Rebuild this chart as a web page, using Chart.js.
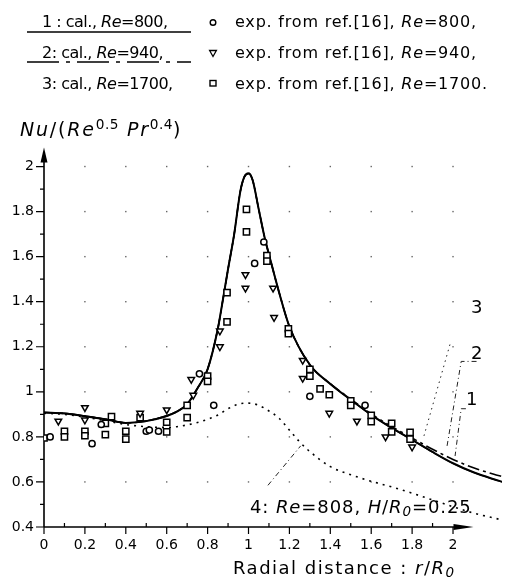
<!DOCTYPE html>
<html>
<head>
<meta charset="utf-8">
<script src="https://cdn.jsdelivr.net/npm/chart.js@4/dist/chart.umd.min.js"></script>
<style>
body { margin: 0; background: #fff; }
#caja { position: relative; width: 508px; height: 580px; font-family: "DejaVu Sans", sans-serif; color: #000; }
#grafico { position: absolute; left: 0; top: 0; }
#leyenda { position: absolute; left: 0; top: 0; }
.txt { position: absolute; white-space: nowrap; line-height: 1; }
.txt i { font-style: italic; }
.txt sup { font-size: 0.72em; position: relative; top: -0.5em; vertical-align: baseline; letter-spacing: 0.5px; }
.txt sub { font-size: 0.75em; position: relative; top: 0.25em; vertical-align: baseline; font-style: italic; }
</style>
</head>
<body>
<div id="caja">
  <canvas id="grafico" width="508" height="580"></canvas>

  <svg id="leyenda" width="508" height="95">
    <line x1="27" y1="32" x2="191" y2="32" stroke="#000" stroke-width="1.5"/>
    <line x1="27" y1="62" x2="191" y2="62" stroke="#000" stroke-width="1.5" stroke-dasharray="32 7 4 7"/>
    <circle cx="213" cy="22.5" r="2.8" fill="#fff" stroke="#000" stroke-width="1.4"/>
    <path d="M209.6 50.5 L216.4 50.5 L213 56.5 Z" fill="#fff" stroke="#000" stroke-width="1.3"/>
    <rect x="210" y="80.5" width="6" height="5.5" fill="#fff" stroke="#000" stroke-width="1.4"/>
  </svg>

  <div class="txt" style="left:42px; top:14px; font-size:16px; letter-spacing:-0.5px">1 : cal., <i>Re</i>=800,</div>
  <div class="txt" style="left:42px; top:45px; font-size:16px; letter-spacing:-0.5px">2: cal., <i>Re</i>=940,</div>
  <div class="txt" style="left:42px; top:76px; font-size:16px; letter-spacing:-0.5px">3: cal., <i>Re</i>=1700,</div>
  <div class="txt" style="left:235px; top:14px; font-size:16px; letter-spacing:0.8px">exp. from ref.[16], <i>Re</i>=800,</div>
  <div class="txt" style="left:235px; top:45px; font-size:16px; letter-spacing:0.8px">exp. from ref.[16], <i>Re</i>=940,</div>
  <div class="txt" style="left:235px; top:76px; font-size:16px; letter-spacing:0.8px">exp. from ref.[16], <i>Re</i>=1700.</div>

  <div class="txt" style="left:20px; top:120px; font-size:19px; letter-spacing:1.8px"><i>Nu</i>/(<i>Re</i><sup>0.5</sup> <i>Pr</i><sup>0.4</sup>)</div>
  <div class="txt" style="left:233px; top:559px; font-size:18px; letter-spacing:1.5px">Radial distance : <i>r</i>/<i>R</i><sub>0</sub></div>
  <div class="txt" style="left:250px; top:498px; font-size:18px; letter-spacing:0.9px">4: <i>Re</i>=808, <i>H</i>/<i>R</i><sub>0</sub>=0.25</div>

  <div class="txt" style="left:471px; top:298px; font-size:18px">3</div>
  <div class="txt" style="left:471px; top:344px; font-size:18px">2</div>
  <div class="txt" style="left:466px; top:390px; font-size:18px">1</div>
</div>

<script>
// curvas calculadas (1, 2, 3)
const xCal = [0, 0.1, 0.2, 0.3, 0.4, 0.5, 0.6, 0.65, 0.7, 0.75, 0.8, 0.85, 0.875, 0.9, 0.93, 0.96, 0.98, 1.0, 1.02, 1.05, 1.08, 1.1, 1.15, 1.2, 1.3, 1.4, 1.5, 1.6, 1.7, 1.8, 1.9, 2.0, 2.1, 2.2, 2.24];
const cal800 = [0.908, 0.904, 0.892, 0.878, 0.862, 0.87, 0.893, 0.912, 0.945, 1.015, 1.10, 1.28, 1.41, 1.545, 1.70, 1.89, 1.955, 1.97, 1.94, 1.81, 1.68, 1.61, 1.44, 1.29, 1.12, 1.035, 0.965, 0.898, 0.84, 0.787, 0.733, 0.683, 0.643, 0.612, 0.601];
const cal940 = [0.908, 0.904, 0.892, 0.878, 0.862, 0.87, 0.893, 0.912, 0.945, 1.015, 1.10, 1.28, 1.41, 1.545, 1.70, 1.89, 1.955, 1.97, 1.94, 1.81, 1.68, 1.61, 1.44, 1.29, 1.12, 1.036, 0.968, 0.902, 0.846, 0.795, 0.745, 0.70, 0.663, 0.634, 0.624];
const cal1700 = [0.909, 0.905, 0.893, 0.879, 0.862, 0.871, 0.894, 0.913, 0.946, 1.016, 1.10, 1.28, 1.41, 1.545, 1.70, 1.89, 1.953, 1.967, 1.94, 1.81, 1.68, 1.61, 1.44, 1.29, 1.12, 1.035, 0.964, 0.897, 0.839, 0.786, 0.732, 0.682, 0.642, 0.611, 0.600];

// curva 4 (punteada)
const xCal4 = [0, 0.1, 0.2, 0.3, 0.4, 0.5, 0.6, 0.7, 0.8, 0.85, 0.9, 0.95, 1.0, 1.05, 1.1, 1.15, 1.2, 1.25, 1.3, 1.4, 1.5, 1.6, 1.7, 1.8, 1.9, 2.0, 2.1, 2.2, 2.24];
const cal808 = [0.905, 0.9, 0.888, 0.872, 0.855, 0.845, 0.842, 0.853, 0.878, 0.897, 0.925, 0.945, 0.95, 0.94, 0.915, 0.882, 0.83, 0.778, 0.735, 0.668, 0.632, 0.603, 0.578, 0.55, 0.52, 0.49, 0.462, 0.44, 0.431];

// experimentos ref.[16]
const exp800X = [0.03, 0.235, 0.28, 0.50, 0.515, 0.56, 0.76, 0.83, 1.03, 1.075, 1.30, 1.57];
const exp800Y = [0.80, 0.77, 0.855, 0.825, 0.83, 0.825, 1.08, 0.94, 1.57, 1.665, 0.98, 0.94];
const exp940X = [0.07, 0.2, 0.2, 0.47, 0.6, 0.72, 0.73, 0.86, 0.86, 0.985, 0.985, 1.12, 1.125, 1.265, 1.265, 1.395, 1.53, 1.67, 1.80];
const exp940Y = [0.87, 0.93, 0.875, 0.905, 0.92, 1.055, 0.985, 1.27, 1.20, 1.52, 1.46, 1.46, 1.33, 1.14, 1.06, 0.905, 0.87, 0.80, 0.755];
const exp1700X = [0, 0.1, 0.1, 0.2, 0.2, 0.3, 0.3, 0.33, 0.4, 0.4, 0.47, 0.6, 0.6, 0.7, 0.7, 0.8, 0.8, 0.895, 0.895, 0.99, 0.99, 1.09, 1.09, 1.195, 1.195, 1.30, 1.30, 1.35, 1.395, 1.5, 1.5, 1.6, 1.6, 1.7, 1.7, 1.79, 1.79];
const exp1700Y = [0.795, 0.825, 0.80, 0.825, 0.805, 0.86, 0.81, 0.89, 0.825, 0.79, 0.885, 0.865, 0.822, 0.94, 0.885, 1.07, 1.046, 1.44, 1.31, 1.81, 1.71, 1.605, 1.58, 1.28, 1.258, 1.10, 1.07, 1.013, 0.987, 0.96, 0.94, 0.895, 0.868, 0.86, 0.822, 0.82, 0.79];

// lineas guia de las etiquetas 1, 2, 3 y 4
const guia1X = [2.063, 2.04, 2.01];
const guia1Y = [0.925, 0.925, 0.715];
const guia2X = [2.115, 2.04, 1.97];
const guia2Y = [1.135, 1.135, 0.755];
const guia3X = [1.985, 1.855];
const guia3Y = [1.21, 0.795];
const guia4X = [1.095, 1.255];
const guia4Y = [0.585, 0.76];

// ejes
const xTicks = [0, 0.2, 0.4, 0.6, 0.8, 1, 1.2, 1.4, 1.6, 1.8, 2];
const xMinor = [0.1, 0.3, 0.5, 0.7, 0.9, 1.1, 1.3, 1.5, 1.7, 1.9];
const yTicks = [0.4, 0.6, 0.8, 1, 1.2, 1.4, 1.6, 1.8, 2];
const yMinor = [0.5, 0.7, 0.9, 1.1, 1.3, 1.5, 1.7, 1.9];
const xFlecha = 2.1;
const yFlecha = 2.085;

function puntos(xs, ys) {
    return xs.map((x, i) => ({ x: x, y: ys[i] }));
}

function curva(xs, ys, ancho, guiones) {
    return {
        data: puntos(xs, ys),
        showLine: true,
        borderColor: '#000',
        borderWidth: ancho,
        borderDash: guiones,
        pointRadius: 0,
        cubicInterpolationMode: 'monotone',
        fill: false
    };
}

function guia(xs, ys, guiones) {
    return {
        data: puntos(xs, ys),
        showLine: true,
        borderColor: '#222',
        borderWidth: 1,
        borderDash: guiones,
        pointRadius: 0,
        tension: 0,
        fill: false
    };
}

function marcas(xs, ys, forma, radio, giro) {
    return {
        data: puntos(xs, ys),
        showLine: false,
        pointStyle: forma,
        pointRadius: radio,
        rotation: giro,
        pointBorderWidth: 1.5,
        pointBorderColor: '#000',
        pointBackgroundColor: '#fff'
    };
}

// dibuja ejes con flechas, marcas y la rejilla de puntos
const ejes = {
    id: 'ejes',
    beforeDatasetsDraw(chart) {
        const ctx = chart.ctx;
        const sx = chart.scales.x, sy = chart.scales.y;
        const x0 = sx.getPixelForValue(0);
        const y0 = sy.getPixelForValue(0.4);
        ctx.save();

        ctx.fillStyle = '#666';
        xTicks.forEach(vx => {
            if (vx === 0) return;
            yTicks.forEach(vy => {
                if (vy === 0.4) return;
                ctx.fillRect(sx.getPixelForValue(vx) - 0.7, sy.getPixelForValue(vy) - 0.7, 1.4, 1.4);
            });
        });

        ctx.strokeStyle = '#000';
        ctx.lineWidth = 1.6;
        ctx.beginPath();
        ctx.moveTo(x0, y0);
        ctx.lineTo(x0, sy.getPixelForValue(yFlecha) + 10);
        ctx.moveTo(x0, y0);
        ctx.lineTo(sx.getPixelForValue(xFlecha) - 14, y0);
        ctx.stroke();

        ctx.lineWidth = 1.2;
        ctx.beginPath();
        xTicks.forEach(v => {
            const p = sx.getPixelForValue(v);
            ctx.moveTo(p, y0);
            ctx.lineTo(p, y0 + 7);
        });
        xMinor.forEach(v => {
            const p = sx.getPixelForValue(v);
            ctx.moveTo(p, y0);
            ctx.lineTo(p, y0 - 4);
        });
        yTicks.forEach(v => {
            const p = sy.getPixelForValue(v);
            ctx.moveTo(x0 - 8, p);
            ctx.lineTo(x0, p);
        });
        yMinor.forEach(v => {
            const p = sy.getPixelForValue(v);
            ctx.moveTo(x0 - 4, p);
            ctx.lineTo(x0, p);
        });
        ctx.stroke();

        // flechas
        ctx.fillStyle = '#000';
        const ty = sy.getPixelForValue(yFlecha);
        ctx.beginPath();
        ctx.moveTo(x0, ty);
        ctx.lineTo(x0 - 3.5, ty + 15);
        ctx.lineTo(x0 + 3.5, ty + 15);
        ctx.closePath();
        ctx.fill();
        const tx = sx.getPixelForValue(xFlecha);
        ctx.beginPath();
        ctx.moveTo(tx, y0);
        ctx.lineTo(tx - 20, y0 - 3);
        ctx.lineTo(tx - 20, y0 + 3);
        ctx.closePath();
        ctx.fill();
        ctx.restore();
    }
};

const canva = document.getElementById('grafico').getContext('2d');

const grafico = new Chart(canva, {
    type: 'scatter',
    data: {
        datasets: [
            marcas(exp800X, exp800Y, 'circle', 3.1, 0),
            marcas(exp940X, exp940Y, 'triangle', 3.8, 180),
            marcas(exp1700X, exp1700Y, 'rect', 4.4, 0),
            curva(xCal, cal800, 2, []),
            curva(xCal, cal940, 1.6, [12, 4, 3, 4]),
            curva(xCal, cal1700, 1.3, []),
            curva(xCal4, cal808, 1.6, [2, 5]),
            guia(guia1X, guia1Y, [5, 3, 1, 3]),
            guia(guia2X, guia2Y, [5, 3, 1, 3]),
            guia(guia3X, guia3Y, [1.5, 4]),
            guia(guia4X, guia4Y, [5, 3, 1, 3])
        ]
    },
    options: {
        responsive: false,
        devicePixelRatio: 1,
        animation: false,
        events: [],
        layout: { padding: { top: 144, right: 0, bottom: 0, left: 0 } },
        plugins: {
            legend: { display: false },
            tooltip: { enabled: false }
        },
        scales: {
            x: {
                type: 'linear',
                min: 0,
                max: 2.24,
                grid: { display: false, drawTicks: false },
                border: { display: false },
                afterBuildTicks: s => { s.ticks = xTicks.map(v => ({ value: v })); },
                afterFit: s => { s.height = 53; },
                ticks: {
                    padding: 10,
                    color: '#000',
                    maxRotation: 0,
                    autoSkip: false,
                    font: { family: 'DejaVu Sans', size: 14 },
                    callback: v => String(v)
                }
            },
            y: {
                type: 'linear',
                min: 0.4,
                max: 2.1,
                grid: { display: false, drawTicks: false },
                border: { display: false },
                afterBuildTicks: s => { s.ticks = yTicks.map(v => ({ value: v })); },
                afterFit: s => { s.width = 44; },
                ticks: {
                    padding: 10,
                    color: '#000',
                    autoSkip: false,
                    font: { family: 'DejaVu Sans', size: 14 },
                    callback: v => String(v)
                }
            }
        }
    },
    plugins: [ejes]
});
</script>
</body>
</html>
